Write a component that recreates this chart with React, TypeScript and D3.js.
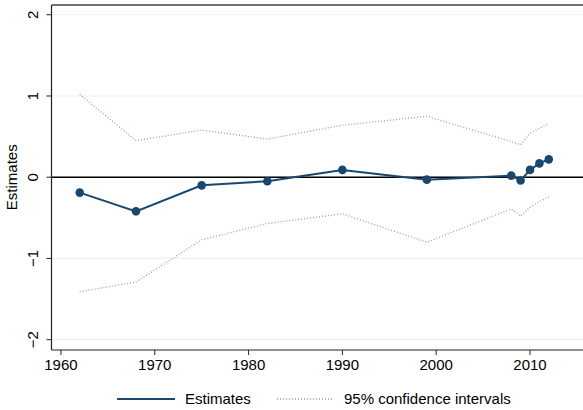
import React from "react";
import * as d3 from "d3";

const years = [1962, 1968, 1975, 1982, 1990, 1999, 2008, 2009, 2010, 2011, 2012];
const estimates = [-0.19, -0.42, -0.1, -0.05, 0.09, -0.03, 0.02, -0.04, 0.09, 0.17, 0.22];
const upperCI = [1.02, 0.45, 0.58, 0.47, 0.64, 0.75, 0.44, 0.4, 0.54, 0.6, 0.66];
const lowerCI = [-1.41, -1.29, -0.77, -0.57, -0.45, -0.8, -0.39, -0.48, -0.37, -0.3, -0.24];
const xTicks = [1960, 1970, 1980, 1990, 2000, 2010];
const yTicks = [-2, -1, 0, 1, 2];

const W = 583;
const H = 410;
const left = 51.5;
const right = 583;
const top = 5;
const bottom = 350;

const navy = "#1a476f";
const ciColor = "#8ba3bd";
const font = "'Liberation Sans', Arial, sans-serif";

export default function App() {
  const x = d3.scaleLinear().domain([1958.99, 2015.65]).range([left, right]);
  const y = d3.scaleLinear().domain([-2.127, 2.12]).range([bottom, top]);

  const line = d3
    .line<[number, number]>()
    .x((d) => x(d[0]))
    .y((d) => y(d[1]));

  const estPts = years.map((yr, i) => [yr, estimates[i]] as [number, number]);
  const upPts = years.map((yr, i) => [yr, upperCI[i]] as [number, number]);
  const loPts = years.map((yr, i) => [yr, lowerCI[i]] as [number, number]);

  return (
    <svg
      width={W}
      height={H}
      style={{ position: "absolute", left: 0, top: 0, background: "#fff" }}
      fontFamily={font}
    >
      <rect x={0} y={0} width={W} height={H} fill="#fff" />
      {yTicks.map((t) => (
        <line
          key={"g" + t}
          x1={left}
          x2={right}
          y1={y(t)}
          y2={y(t)}
          stroke="#eaf2f3"
          strokeWidth={1.2}
        />
      ))}
      <line x1={left} x2={right} y1={y(0)} y2={y(0)} stroke="#000" strokeWidth={1.4} />
      <line x1={left} x2={right} y1={top} y2={top} stroke="#444" strokeWidth={1.5} />
      <line x1={left} x2={left} y1={top} y2={bottom} stroke="#222" strokeWidth={1.2} />
      <line x1={left} x2={right} y1={bottom} y2={bottom} stroke="#222" strokeWidth={1.2} />
      {yTicks.map((t) => (
        <g key={"yt" + t}>
          <line x1={left - 5} x2={left} y1={y(t)} y2={y(t)} stroke="#222" strokeWidth={1} />
          <text
            transform={`translate(38,${y(t)}) rotate(-90)`}
            textAnchor="middle"
            fontSize={15}
            fill="#000"
          >
            {t < 0 ? "\u2212" + Math.abs(t) : String(t)}
          </text>
        </g>
      ))}
      {xTicks.map((t) => (
        <g key={"xt" + t}>
          <line x1={x(t)} x2={x(t)} y1={bottom} y2={bottom + 5} stroke="#222" strokeWidth={1} />
          <text x={x(t)} y={370} textAnchor="middle" fontSize={15} fill="#000">
            {t}
          </text>
        </g>
      ))}
      <text
        transform={`translate(17,${y(0)}) rotate(-90)`}
        textAnchor="middle"
        fontSize={15}
        fill="#000"
      >
        Estimates
      </text>
      <path d={line(upPts) || ""} fill="none" stroke={ciColor} strokeWidth={1.3} strokeDasharray="1,2" />
      <path d={line(loPts) || ""} fill="none" stroke={ciColor} strokeWidth={1.3} strokeDasharray="1,2" />
      <path d={line(estPts) || ""} fill="none" stroke={navy} strokeWidth={2} />
      {estPts.map((p, i) => (
        <circle key={"c" + i} cx={x(p[0])} cy={y(p[1])} r={4.3} fill={navy} />
      ))}
      <line x1={117} x2={175} y1={399} y2={399} stroke={navy} strokeWidth={2} />
      <text x={185} y={404} fontSize={15} fill="#000">
        Estimates
      </text>
      <line x1={277} x2={334} y1={399} y2={399} stroke={ciColor} strokeWidth={1.3} strokeDasharray="1,2" />
      <text x={344} y={404} fontSize={15} fill="#000">
        95% confidence intervals
      </text>
    </svg>
  );
}
